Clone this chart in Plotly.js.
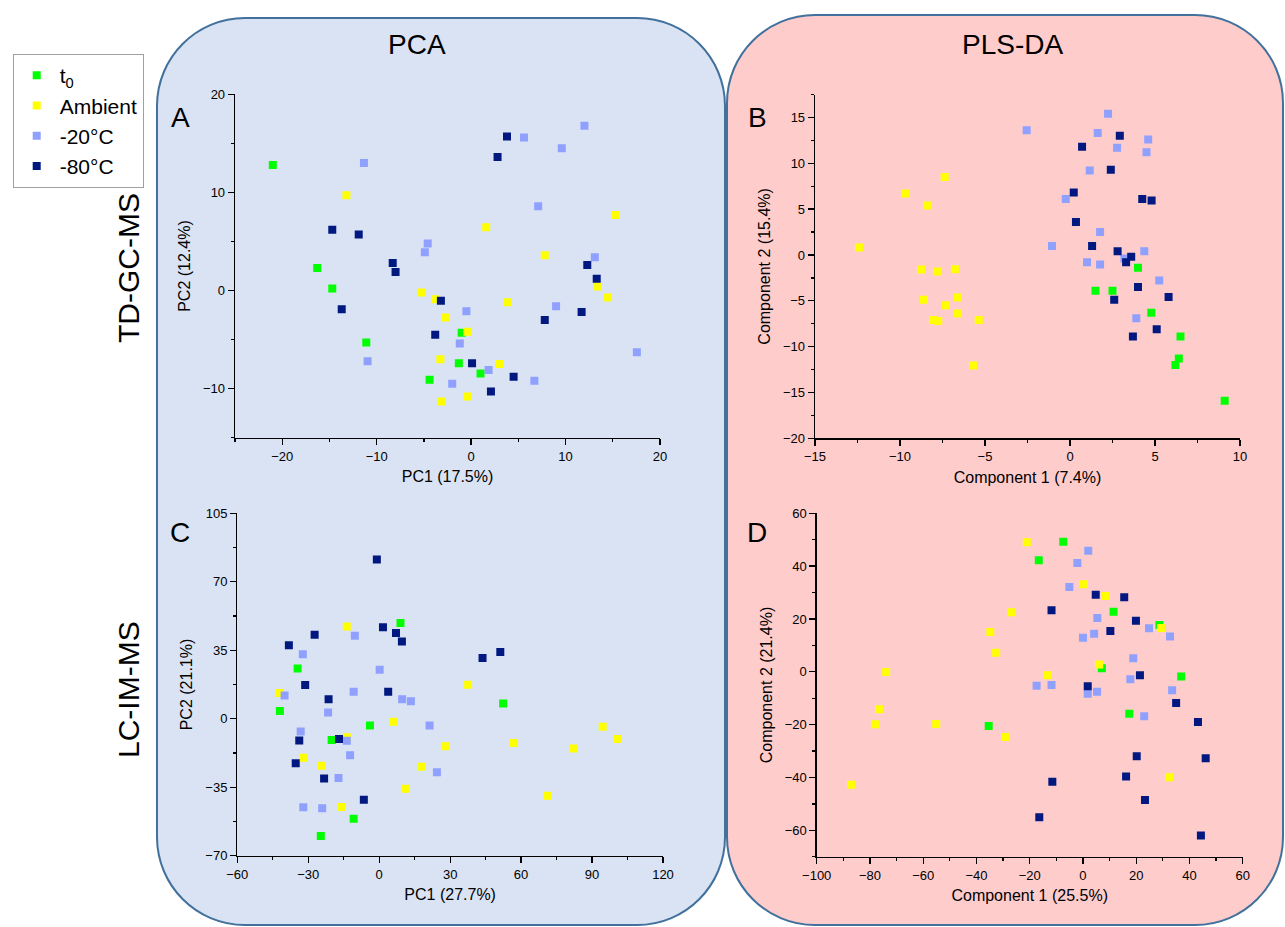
<!DOCTYPE html>
<html>
<head>
<meta charset="utf-8">
<script src="https://cdn.plot.ly/plotly-3.0.1.min.js"></script>
<style>
html,body{margin:0;padding:0;background:#fff;}
#chart{width:1285px;height:927px;}
</style>
</head>
<body>
<div id="chart"></div>
<script>
// ---------- data ----------
const groupNames = ['t<sub>0</sub>', 'Ambient', '-20°C', '-80°C'];
const groupColors = ['#00FF00', '#FFFF00', '#8FA0FF', '#00187F'];

// Panel A: PCA, TD-GC-MS
const A_t0_x = [-21.0, -16.3, -14.7, -11.1, -4.4, -1.0, -1.3, 1.0];
const A_t0_y = [12.8, 2.3, 0.2, -5.3, -9.1, -4.3, -7.4, -8.45];
const A_amb_x = [-13.2, -5.2, -3.8, -2.7, -3.25, -3.1, 1.6, 15.3, 7.8, 13.4, 14.5, 3.9, -0.4, 3.0, -0.4];
const A_amb_y = [9.7, -0.2, -0.9, -2.75, -7.0, -11.3, 6.45, 7.7, 3.6, 0.4, -0.7, -1.2, -4.2, -7.5, -10.8];
const A_m20_x = [-11.35, -4.6, -4.9, -10.96, 5.6, 12.0, 9.6, 7.1, 13.1, -0.5, 9.0, -1.2, 1.85, 6.7, -2.0, 17.55];
const A_m20_y = [13.0, 4.8, 3.9, -7.2, 15.6, 16.8, 14.5, 8.6, 3.4, -2.1, -1.6, -5.4, -8.1, -9.2, -9.5, -6.3];
const A_m80_x = [-14.7, -11.9, -8.3, -8.0, -13.7, -3.2, -3.8, 3.8, 2.8, 12.3, 13.3, 7.8, 11.7, 0.1, 4.5, 2.1];
const A_m80_y = [6.2, 5.7, 2.8, 1.9, -1.9, -1.05, -4.5, 15.7, 13.6, 2.6, 1.2, -3.0, -2.2, -7.4, -8.8, -10.3];

// Panel B: PLS-DA, TD-GC-MS
const B_t0_x = [4.0, 1.5, 2.5, 4.78, 6.5, 6.4, 6.2, 9.1];
const B_t0_y = [-1.4, -3.9, -3.9, -6.3, -8.9, -11.3, -12.0, -15.9];
const B_amb_x = [-7.37, -9.7, -8.4, -12.4, -8.75, -7.8, -6.77, -8.6, -6.6, -7.3, -6.6, -8.06, -7.75, -5.37, -5.7];
const B_amb_y = [8.5, 6.7, 5.4, 0.8, -1.6, -1.8, -1.56, -4.9, -4.65, -5.5, -6.4, -7.1, -7.2, -7.1, -12.05];
const B_m20_x = [-2.55, 2.24, 1.63, 4.6, 2.77, 4.5, 1.16, -0.25, 1.77, -1.06, 4.37, 3.2, 1.0, 1.77, 5.25, 3.9];
const B_m20_y = [13.6, 15.4, 13.3, 12.6, 11.7, 11.2, 9.2, 6.1, 2.5, 0.98, 0.4, -0.4, -0.8, -1.05, -2.8, -6.9];
const B_m80_x = [2.93, 0.71, 2.4, 0.22, 4.25, 4.8, 0.35, 1.3, 2.8, 3.6, 3.3, 2.6, 4.0, 5.8, 5.1, 3.7];
const B_m80_y = [13.0, 11.8, 9.3, 6.8, 6.1, 5.95, 3.6, 0.98, 0.4, -0.2, -0.8, -4.9, -3.5, -4.6, -8.1, -8.9];

// Panel C: PCA, LC-IM-MS
const C_t0_x = [9.0, -34.5, -42, -3.9, -20.1, -10.8, -24.7, 52.4];
const C_t0_y = [48.9, 25.7, 3.9, -3.4, -10.9, -51.1, -59.9, 7.8];
const C_amb_x = [-13.7, -42, 6.1, -13.7, 27.8, -31.8, -24.5, 17.8, 11.0, -16.1, 37.6, 56.8, 94.5, 100.8, 82.0, 71.2];
const C_amb_y = [47.2, 13.1, -1.5, -9.4, -14.0, -19.9, -24.0, -24.5, -35.8, -45.1, 17.4, -12.4, -4.1, -10.4, -15.2, -39.3];
const C_m20_x = [-10.3, -32.3, 0.2, -40, -10.8, 9.7, 13.4, -21.6, 21.3, -33.2, -13.7, -12.3, 24.4, -17.2, -32.1, -24.1];
const C_m20_y = [42.4, 33, 25, 11.9, 13.8, 9.9, 8.9, 3.2, -3.4, -6.5, -11.2, -18.7, -27.3, -30.3, -45.3, -45.8];
const C_m80_x = [-1.0, 1.6, 7.1, 9.6, -27.3, -38.2, -31.3, 3.8, -21.4, -33.8, -17.0, -35.3, -23.3, -6.5, 51.2, 43.7];
const C_m80_y = [81.4, 46.7, 43.8, 39.5, 42.9, 37.5, 17.2, 13.8, 9.9, -11.1, -10.4, -22.8, -30.5, -41.4, 34.1, 31.0];

// Panel D: PLS-DA, LC-IM-MS
const D_t0_x = [-35.4, -7.4, -16.6, 11.5, 28.7, 7.1, 36.9, 17.4];
const D_t0_y = [-20.5, 49.2, 42.2, 22.7, 17.7, 1.3, -1.8, -15.9];
const D_amb_x = [-21.1, -26.8, -34.8, -32.6, -73.9, -76.6, -78, -55.1, -29, -87, 0.3, 8.5, 29.3, 6.1, -13.4, 32.4];
const D_amb_y = [49.0, 22.5, 15.1, 7.2, -0.1, -14.2, -19.9, -19.8, -24.7, -42.8, 33.1, 28.7, 16.6, 2.8, -1.3, -39.9];
const D_m20_x = [2.0, -2.1, -5.1, 5.4, 4.2, 0, 24.8, 32.7, 18.9, -17.4, -11.8, 1.8, 5.3, 17.8, 33.5, 23.0];
const D_m20_y = [45.8, 41.2, 32.1, 20.4, 14.4, 12.9, 16.5, 13.4, 5.1, -5.3, -5.0, -8.3, -7.6, -2.8, -7.0, -16.8];
const D_m80_x = [4.8, 15.5, -11.8, 19.9, 10.3, 21.4, 1.8, 35.0, 43.2, 20.2, 46.1, 16.2, -11.5, 23.3, -16.4, 44.3];
const D_m80_y = [29.2, 28.2, 23.3, 19.3, 15.4, -1.3, -5.5, -11.8, -19.0, -32.0, -32.7, -39.6, -41.6, -48.5, -55.1, -62.0];

const panelTitles = ['PCA', 'PLS-DA'];
const rowTitles = ['TD-GC-MS', 'LC-IM-MS'];
const panelLetters = ['A', 'B', 'C', 'D'];
const xTitles = ['PC1 (17.5%)', 'Component 1 (7.4%)', 'PC1 (27.7%)', 'Component 1 (25.5%)'];
const yTitles = ['PC2 (12.4%)', 'Component 2 (15.4%)', 'PC2 (21.1%)', 'Component 2 (21.4%)'];

// ---------- layout helpers ----------
const W = 1285, H = 927;
const FONT = 'Liberation Sans, Arial, sans-serif';
const fx = p => p / W;
const fy = p => 1 - p / H;

const panels = [
  {xs:[A_t0_x, A_amb_x, A_m20_x, A_m80_x], ys:[A_t0_y, A_amb_y, A_m20_y, A_m80_y]},
  {xs:[B_t0_x, B_amb_x, B_m20_x, B_m80_x], ys:[B_t0_y, B_amb_y, B_m20_y, B_m80_y]},
  {xs:[C_t0_x, C_amb_x, C_m20_x, C_m80_x], ys:[C_t0_y, C_amb_y, C_m20_y, C_m80_y]},
  {xs:[D_t0_x, D_amb_x, D_m20_x, D_m80_x], ys:[D_t0_y, D_amb_y, D_m20_y, D_m80_y]}
];

const traces = [];
panels.forEach((p, pi) => {
  const sfx = pi === 0 ? '' : String(pi + 1);
  for (let g = 0; g < 4; g++) {
    traces.push({
      type: 'scatter', mode: 'markers',
      x: p.xs[g], y: p.ys[g],
      xaxis: 'x' + sfx, yaxis: 'y' + sfx,
      name: groupNames[g], legendgroup: 'g' + g,
      showlegend: pi === 0,
      marker: {symbol: 'square', size: 8, color: groupColors[g], line: {width: 0}},
      hoverinfo: 'x+y+name'
    });
  }
});

function axis(dom, range, dtick, mdtick, title, anchor, standoff) {
  return {
    domain: dom, range: range, dtick: dtick, tick0: 0,
    ticks: 'outside', ticklen: 6, tickwidth: 1.3, tickcolor: '#000',
    showline: true, linecolor: '#000', linewidth: 1.3,
    showgrid: false, zeroline: false, automargin: false, fixedrange: true,
    tickfont: {family: FONT, size: 13, color: '#000'},
    title: {text: title, font: {family: FONT, size: 16, color: '#000'}, standoff: standoff},
    anchor: anchor,
    minor: {dtick: mdtick, tick0: 0, ticks: 'outside', ticklen: 3, tickwidth: 1.3, tickcolor: '#000', showgrid: false}
  };
}

// panel pixel boxes [left, right, top, bottom]
const boxA = [235, 660, 94.3, 437.7];
const boxB = [815, 1240, 94.5, 438.3];
const boxC = [237.3, 663, 513.3, 855.7];
const boxD = [816.7, 1242.7, 513.3, 856.7];
const xd = b => [fx(b[0]), fx(b[1])];
const yd = b => [fy(b[3]), fy(b[2])];

function roundRect(x0, y0, x1, y1, r) {
  const k = 0.5523 * r;
  const X = v => fx(v).toFixed(5), Y = v => fy(v).toFixed(5);
  return 'M ' + X(x0 + r) + ',' + Y(y0) +
    ' L ' + X(x1 - r) + ',' + Y(y0) +
    ' C ' + X(x1 - r + k) + ',' + Y(y0) + ' ' + X(x1) + ',' + Y(y0 + r - k) + ' ' + X(x1) + ',' + Y(y0 + r) +
    ' L ' + X(x1) + ',' + Y(y1 - r) +
    ' C ' + X(x1) + ',' + Y(y1 - r + k) + ' ' + X(x1 - r + k) + ',' + Y(y1) + ' ' + X(x1 - r) + ',' + Y(y1) +
    ' L ' + X(x0 + r) + ',' + Y(y1) +
    ' C ' + X(x0 + r - k) + ',' + Y(y1) + ' ' + X(x0) + ',' + Y(y1 - r + k) + ' ' + X(x0) + ',' + Y(y1 - r) +
    ' L ' + X(x0) + ',' + Y(y0 + r) +
    ' C ' + X(x0) + ',' + Y(y0 + r - k) + ' ' + X(x0 + r - k) + ',' + Y(y0) + ' ' + X(x0 + r) + ',' + Y(y0) + ' Z';
}

const shapes = [
  {type: 'path', xref: 'paper', yref: 'paper', layer: 'below',
   path: roundRect(157, 18, 725, 925, 88),
   fillcolor: '#DAE3F3', line: {color: '#41719C', width: 2}},
  {type: 'path', xref: 'paper', yref: 'paper', layer: 'below',
   path: roundRect(727, 15, 1283, 925, 88),
   fillcolor: '#FFCCCC', line: {color: '#41719C', width: 2}}
];

function ann(text, px, py, size, angle) {
  return {text: text, xref: 'paper', yref: 'paper', x: fx(px), y: fy(py),
          xanchor: 'center', yanchor: 'middle', showarrow: false, textangle: angle || 0,
          font: {family: FONT, size: size, color: '#000'}};
}

const annotations = [
  ann(panelTitles[0], 417, 45, 28),
  ann(panelTitles[1], 1012, 45, 28),
  ann(rowTitles[0], 128, 268, 30, -90),
  ann(rowTitles[1], 128, 690, 30, -90),
  ann(panelLetters[0], 180, 118, 28),
  ann(panelLetters[1], 757, 118, 28),
  ann(panelLetters[2], 180, 532, 28),
  ann(panelLetters[3], 757, 532, 28)
];

const layout = {
  width: W, height: H,
  margin: {l: 0, r: 0, t: 0, b: 0, pad: 0},
  paper_bgcolor: '#FFFFFF', plot_bgcolor: 'rgba(0,0,0,0)',
  font: {family: FONT, color: '#000'},
  showlegend: true,
  legend: {x: fx(12.7), y: fy(54), xanchor: 'left', yanchor: 'top',
           bgcolor: '#FFFFFF', bordercolor: '#A0A0A0', borderwidth: 1,
           itemwidth: 36,
           font: {family: FONT, size: 21, color: '#000'}, tracegroupgap: 0},
  xaxis:  axis(xd(boxA), [-25, 20], 10, 5, xTitles[0], 'y', 8),
  yaxis:  axis(yd(boxA), [-15, 20], 10, 5, yTitles[0], 'x', 8),
  xaxis2: axis(xd(boxB), [-15, 10], 5, 2.5, xTitles[1], 'y2', 8),
  yaxis2: axis(yd(boxB), [-20, 17.5], 5, 2.5, yTitles[1], 'x2', 8),
  xaxis3: axis(xd(boxC), [-60, 120], 30, 15, xTitles[2], 'y3', 8),
  yaxis3: axis(yd(boxC), [-70, 105], 35, 17.5, yTitles[2], 'x3', 8),
  xaxis4: axis(xd(boxD), [-100, 60], 20, 10, xTitles[3], 'y4', 8),
  yaxis4: axis(yd(boxD), [-70, 60], 20, 10, yTitles[3], 'x4', 8),
  shapes: shapes,
  annotations: annotations
};

Plotly.newPlot('chart', traces, layout, {displayModeBar: false, staticPlot: true});
</script>
</body>
</html>
